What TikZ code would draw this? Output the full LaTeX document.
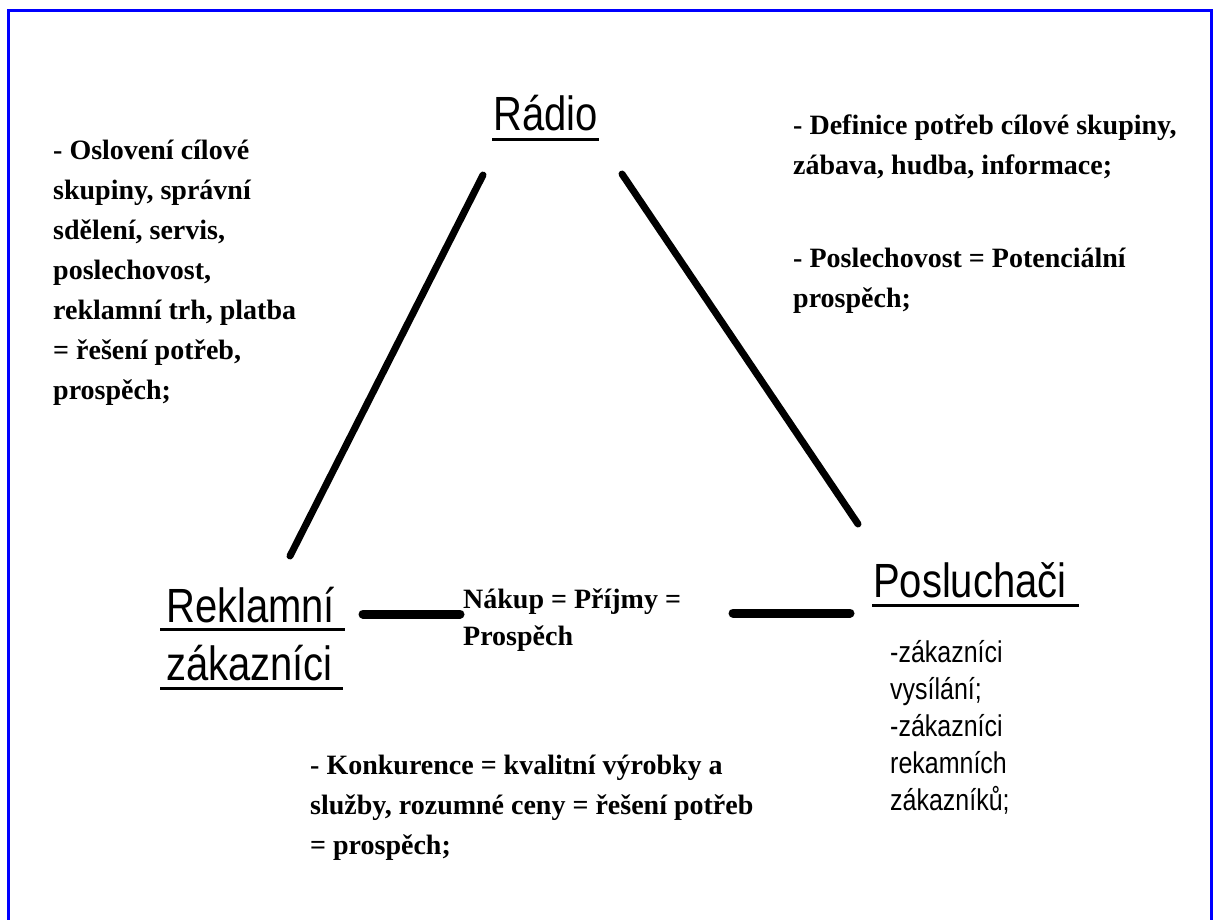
\documentclass[tikz,border=0pt]{standalone}
\usepackage{fontspec}
\setmainfont{Liberation Serif}
\newfontfamily\arialfont[FakeStretch=0.833]{Liberation Sans}
\usepackage{tikz}
\usetikzlibrary{arrows.meta}

\begin{document}
\begin{tikzpicture}[x=1pt,y=-1pt]
\tikzstyle{every node}=[inner sep=0pt, anchor=base west]
\tikzstyle{title}=[font=\arialfont\fontsize{48}{56}\selectfont]
\tikzstyle{note}=[font=\bfseries\fontsize{28}{40}\selectfont, align=left]
\tikzstyle{list}=[font=\arialfont\fontsize{30}{37}\selectfont, align=left]
\tikzstyle{edge}=[line width=7pt, line cap=round]
\tikzstyle{bar}=[line width=9pt, line cap=round]
\tikzstyle{uline}=[line width=3pt]
\tikzstyle{frame}=[line width=3pt, blue]
\useasboundingbox (0,0) rectangle (1214,919);
\draw [frame] (8,935) -- (8,10) -- (1211,10) -- (1211,935);

\node [title] (radio) at (493,130) {Rádio};
\node [title] (reklamni) at (166,622) {Reklamní};
\node [title] (zakaznici) at (166,680) {zákazníci};
\node [title] (posluchaci) at (873,597) {Posluchači};
\draw [uline] ([yshift=-9pt,xshift=-1pt]radio.base west) -- ([yshift=-9pt,xshift=1pt]radio.base east);
\draw [uline] ([yshift=-7pt,xshift=-6pt]reklamni.base west) -- ([yshift=-7pt,xshift=10pt]reklamni.base east);
\draw [uline] ([yshift=-8pt,xshift=-6pt]zakaznici.base west) -- ([yshift=-8pt,xshift=10pt]zakaznici.base east);
\draw [uline] ([yshift=-8pt,xshift=-1pt]posluchaci.base west) -- ([yshift=-8pt,xshift=12pt]posluchaci.base east);

\node [note] (oslo) at (53,399) {- Oslovení cílové\\skupiny, správní\\sdělení, servis,\\poslechovost,\\reklamní trh, platba\\= řešení potřeb,\\prospěch;};
\node [note] (defin) at (793,174) {- Definice potřeb cílové skupiny,\\zábava, hudba, informace;};
\node [note] (posle) at (793,307) {- Poslechovost = Potenciální\\prospěch;};
\node [note, font=\bfseries\fontsize{28}{37}\selectfont] (nakup) at (463,645) {Nákup = Příjmy =\\Prospěch};
\node [note] (konk) at (310,854) {- Konkurence = kvalitní výrobky a\\služby, rozumné ceny = řešení potřeb\\= prospěch;};
\node [list] (zak) at (890,810) {-zákazníci\\vysílání;\\-zákazníci\\rekamních\\zákazníků;};

\coordinate (r1) at (483,175);
\coordinate (r2) at (622,174);
\coordinate (k1) at (290,556);
\coordinate (p1) at (858,524);
\coordinate (k2) at (363,614);
\coordinate (n1) at (460,614);
\coordinate (n2) at (733,613);
\coordinate (p2) at (850,613);
\draw [edge] (r1) -- (k1);
\draw [edge] (r2) -- (p1);
\draw [bar] (k2) -- (n1);
\draw [bar] (n2) -- (p2);
\end{tikzpicture}
\end{document}
